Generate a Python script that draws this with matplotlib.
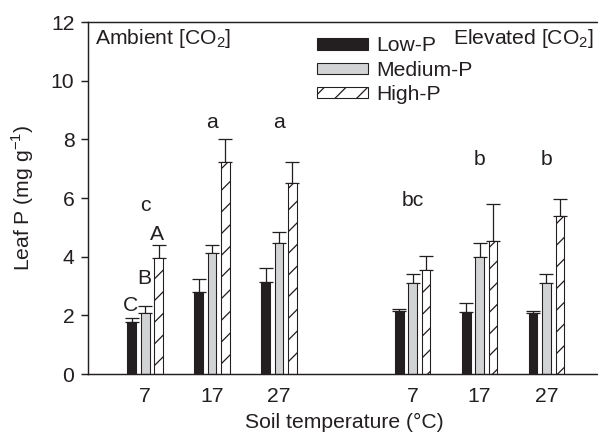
import numpy as np
import matplotlib
matplotlib.use('Agg')
import matplotlib.pyplot as plt

# data (bar tops and upper error-bar ends)
temps = ["7", "17", "27", "7", "17", "27"]
low_p = [1.78, 2.81, 3.14, 2.16, 2.11, 2.08]
low_p_top = [1.90, 3.23, 3.62, 2.23, 2.41, 2.16]
med_p = [2.09, 4.11, 4.45, 3.09, 3.99, 3.09]
med_p_top = [2.33, 4.41, 4.84, 3.40, 4.45, 3.41]
high_p = [3.97, 7.22, 6.51, 3.56, 4.55, 5.38]
high_p_top = [4.39, 8.01, 7.24, 4.01, 5.81, 5.97]

# significance letters: (group index, label, y)
group_letters = [(0, "c", 5.76), (1, "a", 8.57), (2, "a", 8.57),
                 (3, "bc", 5.93), (4, "b", 7.3), (5, "b", 7.3)]
bar_letters = [(-1, "C", 2.35), (0, "B", 3.27), (1, "A", 4.74)]

INK = "#231f20"
plt.rcParams['font.family'] = ['Liberation Sans', 'DejaVu Sans']
plt.rcParams['mathtext.fontset'] = 'custom'
plt.rcParams['mathtext.rm'] = 'Liberation Sans'
plt.rcParams['hatch.linewidth'] = 0.7
plt.rcParams['hatch.color'] = INK

fig = plt.figure(figsize=(598 / 130, 434 / 130), dpi=130)
ax = fig.add_axes([88 / 598, 60 / 434, 512 / 598, 352 / 434])

x = np.array([1, 2, 3, 5, 6, 7], dtype=float)
w = 0.13
off = 0.2

series = [
    (low_p, low_p_top, INK, "", "Low-P"),
    (med_p, med_p_top, "#d1d3d4", "", "Medium-P"),
    (high_p, high_p_top, "white", "//", "High-P"),
]
for i, (vals, tops, fc, hatch, lab) in enumerate(series):
    xs = x + (i - 1) * off
    vals = np.array(vals)
    err = np.array(tops) - vals
    ax.bar(xs, vals, width=w, color=fc, edgecolor=INK, linewidth=0.6,
           hatch=hatch, label=lab, zorder=2)
    ax.errorbar(xs, vals, yerr=[np.zeros_like(err), err], fmt='none',
                ecolor=INK, elinewidth=0.7, capsize=4, capthick=0.7, zorder=1)

for gi, t, yy in group_letters:
    ax.text(x[gi], yy, t, ha='center', va='center', fontsize=11.7, color=INK)
for k, t, yy in bar_letters:
    ax.text(x[0] + k * off - 0.02, yy, t, ha='center', va='center', fontsize=11.7, color=INK)

ax.text(0.014, 0.953, r'Ambient [CO$_\mathregular{2}$]', transform=ax.transAxes,
        ha='left', va='center', fontsize=11.7, color=INK)
ax.text(0.988, 0.953, r'Elevated [CO$_\mathregular{2}$]', transform=ax.transAxes,
        ha='right', va='center', fontsize=11.7, color=INK)

leg = ax.legend(loc='upper left', bbox_to_anchor=(0.431, 0.983), frameon=False,
                fontsize=11.7, handlelength=2.4, handleheight=0.45,
                labelspacing=0.25, handletextpad=0.4, borderaxespad=0)
for t in leg.get_texts():
    t.set_color(INK)

ax.set_xlim(0.145, 7.8)
ax.set_ylim(0, 12)
ax.set_yticks(np.arange(0, 13, 2))
ax.set_xticks(x)
ax.set_xticklabels(temps)
ax.tick_params(axis='x', length=0, pad=7, labelsize=11.7, colors=INK)
ax.tick_params(axis='y', length=4, width=0.8, direction='out', labelsize=11.7, colors=INK)
for s in ['left', 'bottom', 'top']:
    ax.spines[s].set_linewidth(0.8)
    ax.spines[s].set_color(INK)
ax.spines['right'].set_visible(False)

ax.set_xlabel('Soil temperature (°C)', fontsize=11.7, color=INK, labelpad=4)
ax.set_ylabel(r'Leaf P (mg g$^{\mathregular{-1}}$)', fontsize=11.7, color=INK, labelpad=8)

fig.savefig('out.png', dpi=130)
